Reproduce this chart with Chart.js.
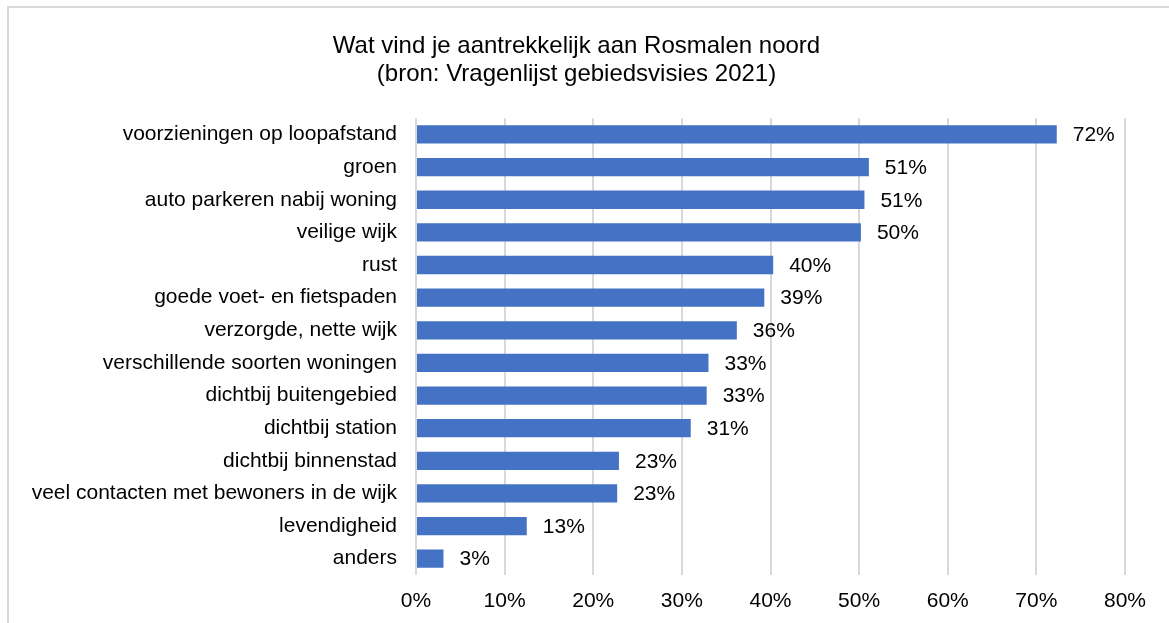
<!DOCTYPE html>
<html>
<head>
<meta charset="utf-8">
<script src="https://cdn.jsdelivr.net/npm/chart.js@4/dist/chart.umd.min.js"></script>
<style>
  html, body { margin: 0; padding: 0; background: #fff; }
  #wrap { width: 1169px; height: 623px; position: relative; }
</style>
</head>
<body>
<div id="wrap"><canvas id="chart" width="1169" height="623"></canvas></div>
<script>
// categories, top to bottom
let categories = [
    "voorzieningen op loopafstand", "groen", "auto parkeren nabij woning", "veilige wijk",
    "rust", "goede voet- en fietspaden", "verzorgde, nette wijk", "verschillende soorten woningen",
    "dichtbij buitengebied", "dichtbij station", "dichtbij binnenstad",
    "veel contacten met bewoners in de wijk", "levendigheid", "anders"
];
// bar lengths (percent)
let shares = [72.3, 51.1, 50.6, 50.2, 40.3, 39.3, 36.2, 33.0, 32.8, 31.0, 22.9, 22.7, 12.5, 3.1];
// printed labels next to the bars
let shareLabels = ["72%", "51%", "51%", "50%", "40%", "39%", "36%", "33%", "33%", "31%", "23%", "23%", "13%", "3%"];
let titleLines = ["Wat vind je aantrekkelijk aan Rosmalen noord", "(bron: Vragenlijst gebiedsvisies 2021)"];

const FONT = "'Liberation Sans', Arial, sans-serif";

// white background + thin frame, like the exported sheet
const framePlugin = {
    id: "frame",
    beforeDraw(chart) {
        const ctx = chart.ctx;
        ctx.save();
        ctx.fillStyle = "#fff";
        ctx.fillRect(0, 0, chart.width, chart.height);
        ctx.strokeStyle = "#d9d9d9";
        ctx.lineWidth = 2;
        ctx.beginPath();
        ctx.moveTo(8, chart.height + 2);
        ctx.lineTo(8, 7);
        ctx.lineTo(chart.width + 2, 7);
        ctx.stroke();
        ctx.restore();
    }
};

// value labels right of each bar
const valueLabels = {
    id: "valueLabels",
    afterDatasetsDraw(chart) {
        const ctx = chart.ctx;
        const meta = chart.getDatasetMeta(0);
        ctx.save();
        ctx.font = "21px " + FONT;
        ctx.fillStyle = "#000";
        ctx.textAlign = "left";
        ctx.textBaseline = "middle";
        meta.data.forEach(function (bar, i) {
            ctx.fillText(shareLabels[i], bar.x + 16, bar.y + 1);
        });
        ctx.restore();
    }
};

new Chart(document.getElementById("chart"), {
    type: "bar",
    data: {
        labels: categories,
        datasets: [{
            data: shares,
            backgroundColor: "#4472c4",
            borderWidth: 0,
            barPercentage: 0.56,
            categoryPercentage: 1
        }]
    },
    options: {
        indexAxis: "y",
        responsive: false,
        animation: false,
        devicePixelRatio: 1,
        layout: {padding: {top: 32, right: 44, bottom: 0, left: 28}},
        plugins: {
            legend: {display: false},
            tooltip: {enabled: false},
            title: {
                display: true,
                text: titleLines,
                color: "#000",
                font: {family: FONT, size: 24, weight: "normal", lineHeight: 1.17},
                padding: {top: 0, bottom: 30}
            }
        },
        scales: {
            x: {
                min: 0,
                max: 80,
                ticks: {
                    stepSize: 10,
                    color: "#000",
                    font: {family: FONT, size: 21},
                    padding: 14,
                    callback: function (v) { return v + "%"; }
                },
                grid: {color: "#d9d9d9", lineWidth: 2, drawTicks: false},
                border: {display: false},
                afterFit: function (scale) { scale.height = 48; }
            },
            y: {
                ticks: {
                    color: "#000",
                    font: {family: FONT, size: 21},
                    padding: 19,
                    autoSkip: false
                },
                grid: {display: false, drawTicks: false},
                border: {display: false},
                afterFit: function (scale) { scale.width = 388; }
            }
        }
    },
    plugins: [framePlugin, valueLabels]
});
</script>
</body>
</html>
